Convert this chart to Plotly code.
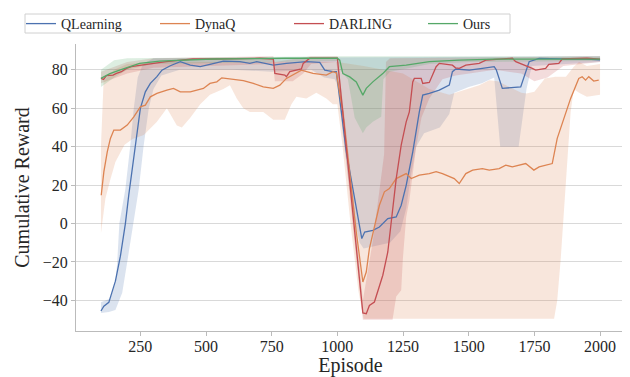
import plotly.graph_objects as go

# ---------------- data ----------------
series_names = ["QLearning", "DynaQ", "DARLING", "Ours"]

q_ep = [100,111,130,143,155,174,181,193,206,231,250,269,288,313,332,364,402,440,478,515,566,629,667,693,756,806,882,933,952,983,996,1009,1034,1059,1093,1104,1135,1160,1192,1224,1243,1262,1287,1312,1325,1350,1388,1426,1438,1451,1502,1552,1597,1605,1628,1698,1730,1768,1850,1900,1950,2000]
q_val = [-45.5,-43,-41,-35,-30,-17,-11,0,15,40.8,59.9,68.5,72.9,76.4,79.8,82.1,84.2,82.4,81.6,82.8,84.5,84.2,83.3,84.2,82.4,83.3,84.2,83.8,79.8,79,79,65,37.3,18.2,-7.8,-4.4,-3.5,-1.8,2.6,3.4,9.5,19.9,37.3,58.1,66.8,67.7,69.4,72,79,80.4,79.8,80.7,81.6,80,70.3,71.1,84.2,85.9,85.5,85.5,85.5,85.2]
q_lo_ep = [100,130,155,181,200,222,244,262,282,300,330,400,600,750,900,950,990,1000,1028,1059,1085,1100,1200,1240,1262,1280,1300,1330,1390,1426,1445,1500,1550,1597,1620,1690,1720,1740,2000]
q_lo = [-46.5,-46,-45,-36,-20,-2,18,40,60,70,77,80,80,79,80,76,75,72,38,5,-10,-13,-10,-4,8,25,40,47,50,57,68,71,73,76,40,40,70,82,84]
q_hi_ep = [100,136,155,162,170,193,212,225,240,260,300,1000,2000]
q_hi = [-41,-39,-31,-20,0,18,41,60,76,83,86,86.5,87]

d_ep = [101,111,124,136,149,174,200,225,250,269,288,313,351,376,402,440,465,490,515,541,560,591,642,680,718,756,781,806,844,863,907,958,983,996,1021,1047,1072,1097,1110,1122,1141,1160,1179,1198,1224,1262,1281,1312,1350,1376,1400,1426,1445,1464,1489,1515,1552,1578,1616,1641,1666,1717,1748,1768,1818,1837,1862,1888,1919,1932,1945,1957,1976,1995]
d_val = [14.7,26.9,37.3,44.3,48.6,48.6,51.2,55.5,60.7,61.6,65.9,67.7,69.4,70.3,68.5,68.5,69.4,70.3,72.9,73.7,75.8,75.3,74.4,72.9,71.1,70.3,72,75.5,78.1,79.8,78.1,77.2,79,78.4,58,27,-4.4,-30.4,-25.2,-13,-0.9,9.5,16.5,18.2,23.4,26,23.4,25.2,26,27,26,24.3,23.4,20.8,26,27.8,28.6,27.8,28.6,30.4,29.5,31.2,27.8,29.5,31.2,44.3,54.7,65.1,75.5,76.4,74.6,76.4,74.1,74.6]
d_lo_ep = [100,117,136,155,174,190,220,263,313,351,389,408,440,478,515,566,591,617,642,667,718,756,800,825,844,882,920,958,983,1000,1020,1050,1080,1100,1825,1837,1850,1862,1875,1888,1900,1920,1950,2000]
d_lo = [-5,13,23,32,37,41,44,46,53,60,51,50,55,62,67,70,72,65,60,58,58,54,54,62,66,65,68,65,62,62,40,0,-35,-49.5,-49.5,-40,-19,4,32,58,70,68,66,67]
d_hi_ep = [100,110,150,200,300,1000,1100,1250,1300,1350,1426,1464,1500,1540,1578,1610,1700,1720,1750,1790,1830,1870,1900,1920,1950,2000]
d_hi = [40,74,80,83,84,84,82,78,74,70,67,68.5,70.3,72,74.6,74,68,67.7,68.5,75.5,76.4,76.4,81.6,84,82,83]

r_ep = [100,110,121,146,159,178,197,216,254,298,349,387,450,526,600,705,756,762,800,806,819,844,863,870,895,1000,1097,1110,1122,1141,1154,1173,1192,1211,1224,1243,1262,1274,1287,1293,1319,1325,1350,1376,1388,1438,1450,1464,1489,1540,1565,1666,1679,1742,1755,1793,1805,1843,1856,1950,2000]
r_val = [75.5,75,76.9,77.2,78.1,79,80.7,81.6,82.4,83.3,84.2,84.7,85.6,85.6,85.9,86,85.6,78.1,77.2,76.4,79,79.8,80.4,83.3,86,86,-46.5,-46.9,-42.6,-40.8,-35.6,-26.9,-14.8,6,23.4,40.8,52.9,58.1,73.7,75.5,75.5,72.9,73.4,81.6,83.3,82.4,81,80.7,82.4,83.3,85,86,84.2,80.7,79.8,80.7,82.8,83.3,85.6,86,85.5]
r_lo_ep = [100,200,300,700,756,762,830,870,900,996,1000,1050,1080,1097,1210,1224,1243,1249,1262,1274,1300,1320,1350,1400,1450,1600,1700,1750,1800,1860,2000]
r_lo = [73,78,81,83,83,74,74,78,83,84,80,10,-30,-50,-50,-38,-34.7,-19,3.4,12,40,55,65,75,77,80,78,74,76,82,84]
r_hi_ep = [100,200,300,756,762,900,1000,1030,1060,1097,1135,1160,1178,1185,1200,2000]
r_hi = [79,84,86,87,84,87,87,52,15,-40,-9,16,36,84,86,87]

g_ep = [100,134,171,209,247,323,425,526,800,1000,1009,1021,1047,1072,1097,1110,1135,1173,1198,1262,1350,1464,1600,2000]
g_val = [75.5,78,79.8,81.6,83.3,84.5,85,85.6,86,86,85,78,76.3,73.7,66.8,70.3,73.7,78,81.6,82.4,84.2,85,85.5,85.5]
g_lo_ep = [100,150,200,300,1000,1010,1040,1066,1097,1110,1135,1167,1175,1200,1260,1350,1500,2000]
g_lo = [71,76,80,83,84.5,80,75,55,47,50,53,55.5,75,79,80.5,83,84,84.5]
g_hi_ep = [100,150,200,1000,2000]
g_hi = [80,85,86,87,87]

x_ticks = [250, 500, 750, 1000, 1250, 1500, 1750, 2000]
y_ticks = [-40, -20, 0, 20, 40, 60, 80]

colors = ["#4C72B0", "#DD8452", "#C44E52", "#55A868"]
fills = ["rgba(76,114,176,0.2)", "rgba(221,132,82,0.2)", "rgba(196,78,82,0.2)", "rgba(85,168,104,0.2)"]

series = [
    (q_ep, q_val, q_lo_ep, q_lo, q_hi_ep, q_hi),
    (d_ep, d_val, d_lo_ep, d_lo, d_hi_ep, d_hi),
    (r_ep, r_val, r_lo_ep, r_lo, r_hi_ep, r_hi),
    (g_ep, g_val, g_lo_ep, g_lo, g_hi_ep, g_hi),
]

fig = go.Figure()
for i, (ep, val, lo_ep, lo, hi_ep, hi) in enumerate(series):
    fig.add_trace(go.Scatter(
        x=list(lo_ep) + list(hi_ep)[::-1],
        y=list(lo) + list(hi)[::-1],
        fill="toself", fillcolor=fills[i], line=dict(width=0),
        mode="lines", hoverinfo="skip", showlegend=False))
for i, (ep, val, lo_ep, lo, hi_ep, hi) in enumerate(series):
    fig.add_trace(go.Scatter(
        x=ep, y=val, mode="lines", name=series_names[i],
        line=dict(color=colors[i], width=1.3)))

font_family = "Liberation Serif"
txt = "#262626"
# the page body has an 8px margin, so the figure is drawn from (8, 8) on screen
OFF = 8
W, H = 630 - OFF, 377 - OFF
L, T = 76 - OFF, 44 - OFF
R = W - (625 - OFF)
B = H - (331 - OFF)
pw, ph = W - L - R, H - T - B

def sx_to_paper(sx):
    return (sx - OFF - L) / pw

def sy_to_paper(sy):
    return (H - B - (sy - OFF)) / ph

fig.update_layout(
    width=W, height=H,
    margin=dict(l=L, r=R, t=T, b=B),
    paper_bgcolor="white", plot_bgcolor="white",
    font=dict(family=font_family, color=txt, size=16),
    showlegend=True,
    legend=dict(
        orientation="h", xref="container", yref="container",
        x=(21 - OFF) / W, y=1.0, xanchor="left", yanchor="top",
        bgcolor="rgba(0,0,0,0)", borderwidth=0, font=dict(size=14, color=txt),
        entrywidth=89, entrywidthmode="pixels", itemwidth=30,
    ),
    shapes=[dict(
        type="rect", xref="paper", yref="paper",
        x0=sx_to_paper(25), x1=sx_to_paper(510),
        y0=sy_to_paper(33), y1=sy_to_paper(14),
        line=dict(color="#d0d0d0", width=1), fillcolor="rgba(0,0,0,0)", layer="above")],
    xaxis=dict(
        range=[5, 2095], tickvals=x_ticks, showgrid=False, zeroline=False,
        showline=True, linecolor="#bbbbbb", linewidth=1.2,
        ticks="outside", ticklen=4, tickcolor="#bbbbbb", ticklabelstandoff=-3,
        tickfont=dict(size=16, color=txt), automargin=False,
        title=dict(text="Episode", font=dict(size=20, color=txt), standoff=2),
    ),
    yaxis=dict(
        range=[-55.9, 93.4], tickvals=y_ticks, showgrid=True, gridcolor="#d9d9d9",
        gridwidth=1, zeroline=False,
        showline=True, linecolor="#bbbbbb", linewidth=1.2,
        ticks="outside", ticklen=4, tickcolor="#bbbbbb",
        tickfont=dict(size=16, color=txt), automargin=False,
        title=dict(text="Cumulative Reward", font=dict(size=20, color=txt), standoff=7),
    ),
)

fig.write_html("out.html")
